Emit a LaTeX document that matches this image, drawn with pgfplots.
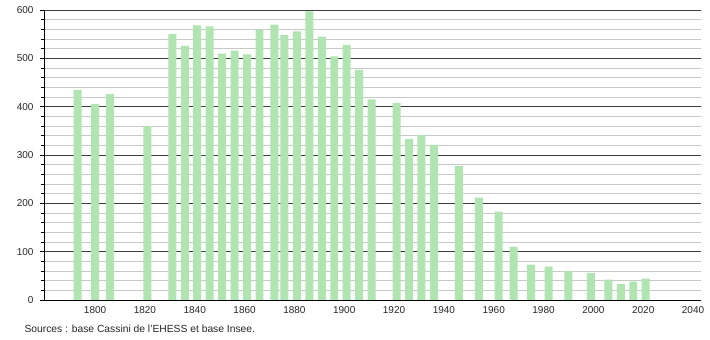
\documentclass[border=0pt]{standalone}
\usepackage{fontspec}
\setmainfont{Liberation Sans}
\usepackage{pgfplots}
\pgfplotsset{compat=1.18}
\definecolor{bargreen}{RGB}{176,228,176}
\definecolor{minorgrid}{RGB}{200,200,200}
\definecolor{majorgrid}{RGB}{60,60,60}
\begin{document}
\begin{tikzpicture}
\path[use as bounding box] (-44pt,-40pt) rectangle (666pt,300pt);
\begin{axis}[
  at={(0pt,0pt)}, anchor=south west,
  scale only axis, width=657pt, height=290pt,
  xmin=1779.5, xmax=2043.2, ymin=0, ymax=600,
  axis x line=bottom, axis y line=left,
  axis line style={black, line width=0.8pt, -},
  xtick={1800,1820,...,2040},
  ytick={0,100,...,600},
  minor y tick num=4,
  ymajorgrids, yminorgrids,
  major grid style={majorgrid, line width=0.8pt},
  minor grid style={minorgrid, line width=0.8pt},
  x tick style={draw=none},
  y tick style={black, line width=0.6pt},
  tick align=outside,
  major tick length=4pt, minor tick length=2.5pt,
  /pgf/number format/.cd, 1000 sep={}, assume math mode=true,
  /pgfplots/.cd,
  tick label style={font=\fontsize{10}{12}\selectfont, text=black!85},
  yticklabel style={xshift=-3pt},
  xticklabel style={yshift=1pt},
]
\addplot[ybar, bar width=3.2, fill=bargreen, draw=none] coordinates {
(1793,435) (1800,406) (1806,426) (1821,360) (1831,550) (1836,526)
(1841,568) (1846,566) (1851,510) (1856,516) (1861,508) (1866,560)
(1872,570) (1876,548) (1881,556) (1886,597) (1891,545) (1896,504)
(1901,528) (1906,476) (1911,415) (1921,408) (1926,333) (1931,341)
(1936,321) (1946,277) (1954,212) (1962,183) (1968,110) (1975,73)
(1982,69) (1990,60) (1999,56) (2006,42) (2011,33) (2016,38) (2021,44)
};
\end{axis}
\node[anchor=base west, font=\fontsize{10.3}{12}\selectfont, text=black!85] at (-23pt,-33pt) {Sources : base Cassini de l'EHESS et base Insee.};
\end{tikzpicture}
\end{document}
